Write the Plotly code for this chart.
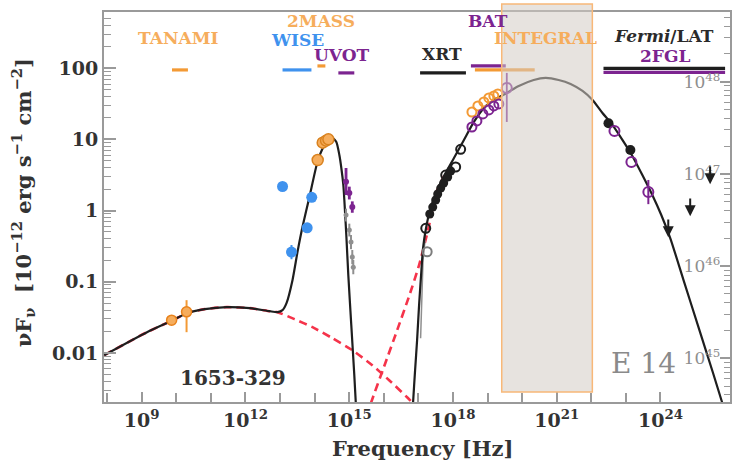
import plotly.graph_objects as go

# Axis ranges (log10 units)
X_RANGE = [7.91, 26.01]        # frequency [Hz]
Y_RANGE = [-2.69, 2.79]        # nuF_nu [1e-12 erg s^-1 cm^-2]
L_RANGE = [44.526, 48.756]     # luminosity [erg s^-1]

# ---------------- model curves: log10(nu), log10(nuF_nu) ----------------
model_low_lognu = [7.914, 9.153, 9.902, 10.305, 10.824, 11.458, 12.121, 12.697, 12.928,
                   13.072, 13.187, 13.360, 13.504, 13.648, 13.850, 14.081, 14.254, 14.398,
                   14.513, 14.628, 14.715, 14.772, 14.830, 14.859, 14.916, 14.974, 15.060,
                   15.147, 15.233]
model_low_logf = [-2.032, -1.709, -1.540, -1.442, -1.385, -1.357, -1.371, -1.414, -1.428,
                  -1.400, -1.301, -0.978, -0.584, -0.232, 0.190, 0.682, 0.893, 0.992,
                  1.020, 0.963, 0.781, 0.598, 0.359, 0.148, -0.345, -0.907, -1.610,
                  -2.313, -3.087]

model_high_lognu = [16.80, 16.847, 16.905, 16.963, 17.020, 17.078, 17.135, 17.222, 17.337,
                    17.510, 17.741, 18.029, 18.317, 18.605, 18.922, 19.239, 19.556, 19.902,
                    20.334, 20.680, 21.055, 21.401, 21.746, 22.035, 22.323, 22.611, 22.899,
                    23.187, 23.476, 23.764, 24.023, 24.282, 24.657, 25.089, 25.522, 25.781,
                    25.954]
model_high_logf = [-3.20, -2.693, -2.243, -1.821, -1.329, -0.907, -0.527, -0.246, 0.007,
                   0.246, 0.485, 0.738, 0.992, 1.245, 1.456, 1.568, 1.653, 1.751,
                   1.835, 1.864, 1.835, 1.779, 1.681, 1.554, 1.371, 1.203, 0.992,
                   0.767, 0.499, 0.218, -0.063, -0.387, -0.963, -1.624, -2.286, -2.693,
                   -2.961]

sync_lognu = [7.914, 9.153, 9.902, 10.305, 10.824, 11.458, 12.121, 12.697, 12.928,
              13.418, 13.937, 14.513, 15.089, 15.666, 16.155, 16.674, 17.164]
sync_logf = [-2.032, -1.709, -1.540, -1.442, -1.385, -1.357, -1.371, -1.414, -1.428,
             -1.526, -1.639, -1.793, -1.962, -2.173, -2.384, -2.623, -2.862]

ic_lognu = [15.29, 15.637, 16.012, 16.386, 16.732, 17.020, 17.30, 17.510, 17.741]
ic_logf = [-3.23, -2.693, -2.187, -1.681, -1.203, -0.767, -0.23, 0.246, 0.485]

xrt_grey_lognu = [17.064, 17.092, 17.135, 17.193]
xrt_grey_logf = [-1.793, -1.259, -0.696, -0.415]

# ---------------- data points ----------------
tanami_lognu = [9.865, 10.297]
tanami_logf = [-1.540, -1.423]
tanami_err_up = [0.0, 0.164]
tanami_err_dn = [0.0, 0.286]

wise_lognu = [13.072, 13.331, 13.784, 13.916]
wise_logf = [0.338, -0.584, -0.242, 0.186]
wise_err = [0.0, 0.10, 0.0, 0.0]

twomass_lognu = [14.089, 14.233, 14.331, 14.398]
twomass_logf = [0.710, 0.954, 0.982, 1.001]

uvot_lognu = [14.908, 15.003, 15.089]
uvot_logf = [0.405, 0.246, 0.049]
uvot_err_up = [0.193, 0.09, 0.08]
uvot_err_dn = [0.187, 0.09, 0.08]

uvot_grey_lognu = [14.908, 15.003, 15.052, 15.089, 15.118]
uvot_grey_logf = [-0.063, -0.274, -0.443, -0.654, -0.795]
uvot_grey_err = [0.09, 0.09, 0.10, 0.10, 0.10]

xrt_fill_lognu = [17.329, 17.415, 17.501, 17.559, 17.646, 17.732, 17.847, 17.934]
xrt_fill_logf = [-0.049, 0.049, 0.148, 0.232, 0.316, 0.387, 0.471, 0.556]
xrt_open_lognu = [17.213, 17.790, 18.078, 18.222]
xrt_open_logf = [-0.250, 0.499, 0.612, 0.861]
xrt_grey_pt_lognu = [17.254]
xrt_grey_pt_logf = [-0.579]

bat_lognu = [18.548, 18.692, 18.865, 19.037, 19.182, 19.326]
bat_logf = [1.174, 1.259, 1.357, 1.414, 1.470, 1.498]
hard_x_lognu = [18.548, 18.720, 18.893, 19.037, 19.182, 19.297]
hard_x_logf = [1.385, 1.470, 1.526, 1.582, 1.610, 1.639]

bat_hi_lognu = [19.556]
bat_hi_logf = [1.723]
bat_hi_err_up = [0.211]
bat_hi_err_dn = [0.478]

lat_lognu = [22.496, 23.130]
lat_logf = [1.226, 0.851]
fgl_lognu = [22.669, 23.159, 23.649]
fgl_logf = [1.118, 0.682, 0.260]
fgl_err = [0.0, 0.0, 0.17]

ul_lognu = [24.225, 24.859, 25.435]
ul_logf = [-0.106, 0.190, 0.640]

# ---------------- instrument coverage bands ----------------
band_name = ["TANAMI", "WISE", "2MASS", "UVOT", "XRT", "BAT", "INTEGRAL", "Fermi/LAT", "2FGL"]
band_lo = [9.876, 13.072, 14.081, 14.686, 17.049, 18.519, 18.634, 22.352, 22.352]
band_hi = [10.337, 13.908, 14.311, 15.147, 18.375, 19.527, 20.363, 25.868, 25.868]
integral_box_lognu = [19.41, 22.03]

# ---------------- styles ----------------
ORANGE = "#f39a35"
ORANGE_LT = "#f6ad5c"
BLUE = "#3f92ee"
PURPLE = "#7c2490"
BLACK = "#1e1e1e"
GREY = "#8f8f8f"
RED = "#f5334a"
AXIS = "#9a9a9a"
FONT = "DejaVu Serif"

band_color = [ORANGE, BLUE, ORANGE, PURPLE, BLACK, PURPLE, ORANGE, BLACK, PURPLE]
band_level = [1.976, 1.976, 2.032, 1.934, 1.934, 2.032, 1.976, 1.997, 1.941]

W, H = 741, 461
L, R, T, B = 104, 9, 12, 59
PW, PH = W - L - R, H - T - B


def lin(a):
    return [10.0 ** v for v in a]


def err_arrays(logf, up, dn):
    plus = [10.0 ** (f + u) - 10.0 ** f for f, u in zip(logf, up)]
    minus = [10.0 ** f - 10.0 ** (f - d) for f, d in zip(logf, dn)]
    return plus, minus


def px(xp):
    return (xp - L) / PW


def py(yp):
    return (T + PH - yp) / PH


fig = go.Figure()

# model components (dashed) and total model
fig.add_trace(go.Scatter(x=lin(sync_lognu), y=lin(sync_logf), mode="lines",
                         line=dict(color=RED, width=2.6, dash="8px,5px", shape="spline", smoothing=0.6),
                         hoverinfo="skip"))
fig.add_trace(go.Scatter(x=lin(ic_lognu), y=lin(ic_logf), mode="lines",
                         line=dict(color=RED, width=2.6, dash="8px,5px", shape="spline", smoothing=0.6),
                         hoverinfo="skip"))
fig.add_trace(go.Scatter(x=lin(xrt_grey_lognu), y=lin(xrt_grey_logf), mode="lines",
                         line=dict(color=GREY, width=1.5), hoverinfo="skip"))
for xs, ys in [(model_low_lognu, model_low_logf), (model_high_lognu, model_high_logf)]:
    fig.add_trace(go.Scatter(x=lin(xs), y=lin(ys), mode="lines",
                             line=dict(color=BLACK, width=2.2, shape="spline", smoothing=0.6),
                             hoverinfo="skip"))

# instrument coverage bars
for lo, hi, lev, col in zip(band_lo, band_hi, band_level, band_color):
    fig.add_trace(go.Scatter(x=lin([lo, hi]), y=lin([lev, lev]), mode="lines",
                             line=dict(color=col, width=3.2), hoverinfo="skip"))


def points(lognu, logf, color, symbol="circle", size=9, fill=None, lw=2,
           up=None, dn=None, ecolor=None, ewidth=2):
    kw = {}
    if up is not None:
        plus, minus = err_arrays(logf, up, dn if dn is not None else up)
        kw["error_y"] = dict(type="data", array=plus, arrayminus=minus, symmetric=False,
                             color=ecolor or color, thickness=ewidth, width=0)
    marker = dict(symbol=symbol, size=size, color=fill or color,
                  line=dict(color=color, width=lw))
    fig.add_trace(go.Scatter(x=lin(lognu), y=lin(logf), mode="markers", marker=marker,
                             hoverinfo="skip", **kw))


points(tanami_lognu, tanami_logf, "#e8821c", size=10, fill=ORANGE_LT, lw=1.5,
       up=tanami_err_up, dn=tanami_err_dn, ecolor=ORANGE)
points(wise_lognu, wise_logf, BLUE, size=11, lw=0, up=wise_err)
points(twomass_lognu, twomass_logf, "#d9821f", size=11, fill=ORANGE_LT, lw=1.5)
points(uvot_grey_lognu, uvot_grey_logf, GREY, size=5, lw=0, up=uvot_grey_err, ewidth=2)
points(uvot_lognu, uvot_logf, PURPLE, size=6, lw=0, up=uvot_err_up, dn=uvot_err_dn, ewidth=2.8)
points(xrt_grey_pt_lognu, xrt_grey_pt_logf, "#7d7d7d", symbol="circle-open", size=9)
points(xrt_open_lognu, xrt_open_logf, BLACK, symbol="circle-open", size=9)
points(xrt_fill_lognu, xrt_fill_logf, BLACK, size=9, lw=0)
points(hard_x_lognu, hard_x_logf, ORANGE, symbol="circle-open", size=9)
points(bat_lognu, bat_logf, PURPLE, symbol="circle-open", size=9)
points(bat_hi_lognu, bat_hi_logf, PURPLE, symbol="circle-open", size=10,
       up=bat_hi_err_up, dn=bat_hi_err_dn, ewidth=1.8)
points(lat_lognu, lat_logf, BLACK, size=10, lw=0)
points(fgl_lognu, fgl_logf, PURPLE, symbol="circle-open", size=10, up=fgl_err, ewidth=2)

# placeholder on the luminosity axis so it gets drawn
fig.add_trace(go.Scatter(x=[1e20], y=[1e46], yaxis="y2", mode="markers",
                         marker=dict(opacity=0), hoverinfo="skip"))

annotations = []
# upper limits
for xn, yf in zip(ul_lognu, ul_logf):
    annotations.append(dict(x=xn, y=yf - 0.27, ax=xn, ay=yf, xref="x", yref="y",
                            axref="x", ayref="y", text="", showarrow=True,
                            arrowhead=2, arrowsize=1.1, arrowwidth=2, arrowcolor=BLACK))

# instrument labels
labels = [
    ("TANAMI", 178.5, 38, ORANGE_LT, 17),
    ("2MASS", 322, 21, ORANGE_LT, 17),
    ("WISE", 298, 40, BLUE, 17),
    ("UVOT", 343, 55, PURPLE, 17),
    ("XRT", 443, 54, "#2a2a2a", 17),
    ("BAT", 489, 21, PURPLE, 17),
    ("INTEGRAL", 547, 38, ORANGE_LT, 17),
    ("<i>Fermi</i>/LAT", 666, 36, "#2a2a2a", 17),
    ("2FGL", 667, 56, PURPLE, 17),
]
for txt, xx, yy, col, sz in labels:
    annotations.append(dict(x=px(xx), y=py(yy), xref="paper", yref="paper", text=txt,
                            showarrow=False, xanchor="center", yanchor="middle",
                            font=dict(family=FONT, size=sz, color=col, weight="bold")))

annotations.append(dict(x=px(233), y=py(378), xref="paper", yref="paper", text="1653-329",
                        showarrow=False, xanchor="center", yanchor="middle",
                        font=dict(family=FONT, size=20, color="#333333", weight="bold")))
annotations.append(dict(x=px(645), y=py(363), xref="paper", yref="paper", text="E 14",
                        showarrow=False, xanchor="center", yanchor="middle",
                        font=dict(family=FONT, size=28, color="#8a8a8a")))

# axis titles
annotations.append(dict(x=px(424), y=py(448), xref="paper", yref="paper",
                        text="Frequency [Hz]", showarrow=False,
                        xanchor="center", yanchor="middle",
                        font=dict(family=FONT, size=21, color="#333333", weight="bold")))
annotations.append(dict(x=px(23), y=py(203), xref="paper", yref="paper",
                        text="νF<sub>ν</sub>  [10<sup>−12</sup> erg s<sup>−1</sup> cm<sup>−2</sup>]",
                        showarrow=False, textangle=-90, xanchor="center", yanchor="middle",
                        font=dict(family=FONT, size=21, color="#333333", weight="bold")))

# INTEGRAL band (semi-transparent, drawn above the curve)
bx0 = (integral_box_lognu[0] - X_RANGE[0]) / (X_RANGE[1] - X_RANGE[0])
bx1 = (integral_box_lognu[1] - X_RANGE[0]) / (X_RANGE[1] - X_RANGE[0])
shapes = [dict(type="rect", xref="paper", yref="paper", x0=bx0, x1=bx1,
               y0=py(392), y1=py(4), layer="above",
               fillcolor="rgba(212,204,197,0.55)",
               line=dict(color="rgba(248,184,120,1)", width=1.5))]

x_major = [9, 12, 15, 18, 21, 24]
y_major = [-2, -1, 0, 1, 2]
y_labels = ["0.01", "0.1", "1", "10", "100"]
l_major = [45, 46, 47, 48]

fig.update_layout(
    width=W, height=H,
    margin=dict(l=L, r=R, t=T, b=B),
    paper_bgcolor="white", plot_bgcolor="white",
    showlegend=False,
    font=dict(family=FONT, color="#333333"),
    xaxis=dict(type="log", range=X_RANGE, showgrid=False, zeroline=False,
               tickmode="array", tickvals=lin(x_major),
               ticktext=[f"10<sup>{k}</sup>" for k in x_major],
               ticks="inside", ticklen=10, tickwidth=1.5, tickcolor=AXIS,
               showline=True, linecolor=AXIS, linewidth=2, mirror=True,
               tickfont=dict(family=FONT, size=19, color="#333333", weight="bold"),
               minor=dict(tickmode="array", tickvals=lin(list(range(8, 27))),
                          ticks="inside", ticklen=9, tickwidth=1.5, tickcolor=AXIS)),
    yaxis=dict(type="log", range=Y_RANGE, showgrid=False, zeroline=False,
               tickmode="array", tickvals=lin(y_major), ticktext=y_labels,
               ticks="inside", ticklen=12, tickwidth=1.5, tickcolor=AXIS,
               showline=True, linecolor=AXIS, linewidth=2, mirror=True,
               tickfont=dict(family=FONT, size=19, color="#333333", weight="bold"),
               minor=dict(tickmode="array",
                          tickvals=[m * 10.0 ** e for e in range(-3, 3) for m in range(2, 10)],
                          ticks="inside", ticklen=7, tickwidth=1.2, tickcolor=AXIS)),
    yaxis2=dict(type="log", range=L_RANGE, overlaying="y", side="right",
                showgrid=False, zeroline=False, showline=False,
                tickmode="array", tickvals=lin(l_major),
                ticktext=[f"10<sup>{k}</sup>" for k in l_major],
                ticks="inside", ticklen=10, tickwidth=1.5, tickcolor=AXIS,
                ticklabelposition="inside",
                tickfont=dict(family=FONT, size=17, color="#8e8e8e"),
                minor=dict(tickmode="array",
                           tickvals=[m * 10.0 ** e for e in range(44, 49) for m in range(2, 10)],
                           ticks="inside", ticklen=6, tickwidth=1.2, tickcolor=AXIS)),
    annotations=annotations,
    shapes=shapes,
)

fig.write_html("out.html")
